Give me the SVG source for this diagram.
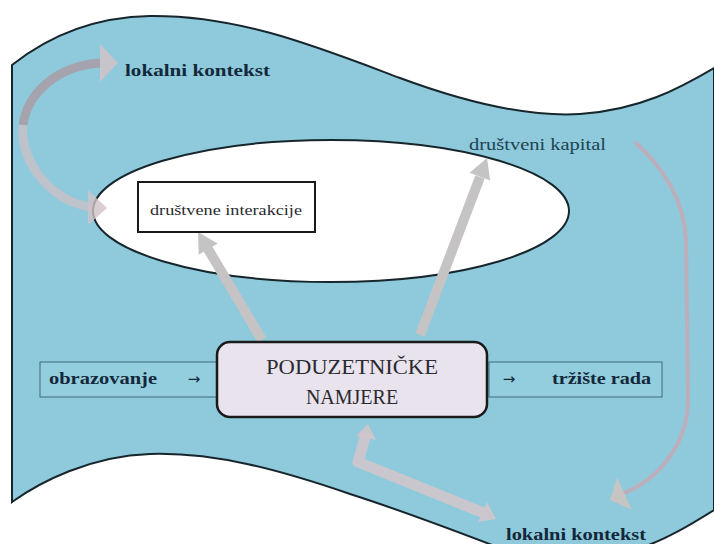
<svg xmlns="http://www.w3.org/2000/svg" width="714" height="544" viewBox="0 0 714 544">
<defs>
<style>
.bold{font-family:"Liberation Serif","Times New Roman",serif;font-weight:bold;fill:#13283a}
.reg{font-family:"Liberation Serif","Times New Roman",serif;fill:#2a2a30}
.band{fill:#93cede;stroke:#3d6a7a;stroke-width:1}
.gshaft{fill:none;stroke:#c6c3c5;stroke-width:10}
.ghead{fill:#c6c3c5}
.pshaft{fill:none;stroke:#d3c5ca;stroke-width:11;stroke-linejoin:round}
.phead{fill:#d3c5ca}
.arr{font-family:"DejaVu Sans",sans-serif;fill:#13283a}
</style>
</defs>
<rect x="0" y="0" width="714" height="544" fill="#ffffff"/>
<g id="background">
<path d="M12,65 C50,35 95,17 150,16 C240,15 320,48 400,78 C470,104 530,117 580,114 C640,110 680,88 714,68 L714,510 C690,525 665,540 640,548 L500,548 C440,525 400,510 350,494 C280,470 215,452 150,454 C90,456 40,482 12,502 Z" fill="#8ecadb" stroke="#17262c" stroke-width="2"/>
</g>
<g id="ellipse">
<ellipse cx="331" cy="211" rx="238" ry="71" fill="#ffffff" stroke="#17262c" stroke-width="2"/>
</g>
<g id="connectors">
<line class="gshaft" x1="262" y1="340" x2="208" y2="249"/>
<polygon class="ghead" points="198,232 217.7,243.6 198.7,254.8"/>
<line class="gshaft" x1="420" y1="335" x2="480" y2="177"/>
<polygon class="ghead" points="487,158 490.2,180.6 469.6,172.8"/>
<path d="M100,63 C55,66 27,95 23,125" fill="none" stroke="#a99ea6" stroke-width="9" opacity="0.85"/>
<polygon points="100,44 118,63 100,82" fill="#d6c2c7" opacity="0.8"/>
<path d="M23,125 C20,162 50,200 90,207" fill="none" stroke="#cdbfc5" stroke-width="9" opacity="0.75"/>
<polygon points="88,190 107,208 88,225" fill="#d2c2c8" opacity="0.8"/>
<path d="M636,143 C665,170 684,200 686,240 L688,400 C688,440 662,478 624,493" fill="none" stroke="#c4a9b5" stroke-width="4" stroke-linecap="round" opacity="0.85"/>
<polygon points="610,500 631.6,509.8 617.2,477.4" fill="#d6c3bd" opacity="0.8"/>
<polyline class="pshaft" points="366,434 358,462 484,513" opacity="0.85"/>
<polygon class="phead" points="368,424 376,440 356,436" opacity="0.85"/>
<polygon class="phead" points="496,519 478,522 487,502" opacity="0.85"/>
</g>
<g id="drustvene-interakcije">
<rect x="138" y="182" width="177" height="50" fill="#ffffff" stroke="#1a1a1a" stroke-width="2"/>
<text class="reg" x="226" y="215" font-size="15" text-anchor="middle" textLength="152" lengthAdjust="spacingAndGlyphs">društvene interakcije</text>
</g>
<g id="lokalni-kontekst-top">
<text class="bold" x="125" y="76" font-size="17" textLength="145" lengthAdjust="spacingAndGlyphs">lokalni kontekst</text>
</g>
<g id="drustveni-kapital">
<text x="469" y="150" font-size="16" fill="#1f4352" font-family="Liberation Serif, serif" textLength="137" lengthAdjust="spacingAndGlyphs">društveni kapital</text>
</g>
<g id="obrazovanje">
<rect class="band" x="40" y="362" width="177" height="35"/>
<text class="bold" x="49" y="384" font-size="16" textLength="108" lengthAdjust="spacingAndGlyphs">obrazovanje</text>
<text class="arr" x="194" y="384" font-size="15" text-anchor="middle">→</text>
</g>
<g id="trziste-rada">
<rect class="band" x="489" y="362" width="173" height="35"/>
<text class="arr" x="509" y="384" font-size="15" text-anchor="middle">→</text>
<text class="bold" x="552" y="384" font-size="16" textLength="99" lengthAdjust="spacingAndGlyphs">tržište rada</text>
</g>
<g id="poduzetnicke-namjere">
<rect x="217" y="342" width="270" height="75" rx="13" ry="13" fill="#e9e3ee" stroke="#1a1a1a" stroke-width="2.5"/>
<text class="reg" x="352" y="374" font-size="20" text-anchor="middle" textLength="172" lengthAdjust="spacingAndGlyphs">PODUZETNIČKE</text>
<text class="reg" x="352" y="404" font-size="20" text-anchor="middle">NAMJERE</text>
</g>
<g id="lokalni-kontekst-bottom">
<text class="bold" x="506" y="540" font-size="17" textLength="140" lengthAdjust="spacingAndGlyphs">lokalni kontekst</text>
</g>
</svg>
